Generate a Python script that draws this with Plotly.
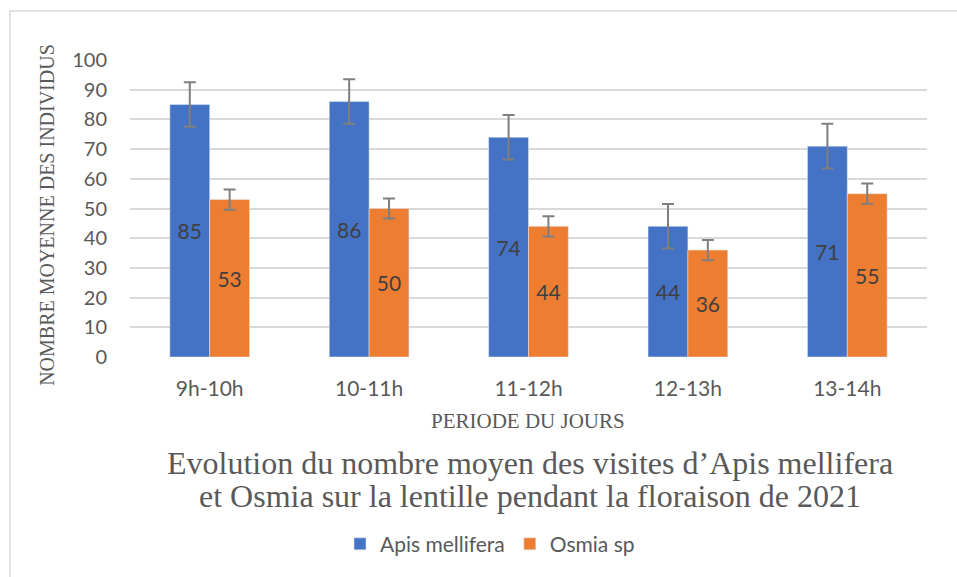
import plotly.graph_objects as go

categories = ["9h-10h", "10-11h", "11-12h", "12-13h", "13-14h"]
apis = [85, 86, 74, 44, 71]
osmia = [53, 50, 44, 36, 55]
apis_err = [7.5, 7.5, 7.5, 7.5, 7.5]
osmia_err = [3.4, 3.4, 3.4, 3.4, 3.4]
y_ticks = [0, 10, 20, 30, 40, 50, 60, 70, 80, 90, 100]

W, H = 957, 577
L, R, T, B = 130, 30, 60, 214
pw, ph = W - L - R, H - T - B

def px(x):
    return (x - L) / pw

def py(y):
    return (H - B - y) / ph

err_style = dict(type="data", thickness=2, width=6, color="#7f7f7f")
lab_font = dict(family="Lato, Carlito, sans-serif", size=21, color="#404040")

fig = go.Figure()
fig.add_trace(go.Bar(
    name="Apis mellifera", x=categories, y=apis, marker_color="#4472c4",
    text=apis, textposition="inside", insidetextanchor="middle",
    textfont=lab_font, textangle=0,
    error_y=dict(array=apis_err, **err_style),
))
fig.add_trace(go.Bar(
    name="Osmia sp", x=categories, y=osmia, marker_color="#ed7d31",
    text=osmia, textposition="inside", insidetextanchor="middle",
    textfont=lab_font, textangle=0,
    error_y=dict(array=osmia_err, **err_style),
))

serif = "Liberation Serif, Times New Roman, serif"

fig.update_layout(
    width=W, height=H,
    margin=dict(l=L, r=R, t=T, b=B),
    paper_bgcolor="white", plot_bgcolor="white",
    barmode="group", bargap=0.5, bargroupgap=0,
    uniformtext=dict(mode=False),
    xaxis=dict(tickfont=dict(family="Lato, Carlito, sans-serif", size=21, color="#595959"),
               showgrid=False, zeroline=False,
               showline=False, ticks="", ticklabelstandoff=17),
    yaxis=dict(range=[0, 100], tickvals=y_ticks,
               tickfont=dict(family="Lato, Carlito, sans-serif", size=20, color="#595959"),
               showgrid=True, gridcolor="#d9d9d9", gridwidth=1.5,
               zeroline=False, showline=False, ticks="",
               ticklabelstandoff=22),
    showlegend=True,
    legend=dict(orientation="h", x=px(490), xanchor="center",
                y=py(554), yanchor="middle",
                font=dict(family="Lato, Carlito, sans-serif", size=21, color="#595959"),
                itemwidth=30, traceorder="normal"),
    font=dict(family="Lato, sans-serif", color="#595959"),
)

annotations = [
    dict(text="NOMBRE MOYENNE DES INDIVIDUS", x=px(47), y=py(218),
         textangle=-90, font=dict(family=serif, size=20, color="#595959")),
    dict(text="PERIODE DU JOURS", x=px(528), y=py(428),
         font=dict(family=serif, size=21, color="#595959")),
    dict(text="Evolution du nombre moyen des visites d\u2019Apis mellifera",
         x=px(530), y=py(471),
         font=dict(family=serif, size=32, color="#595959")),
    dict(text="et Osmia sur la lentille pendant la floraison de 2021",
         x=px(530), y=py(505),
         font=dict(family=serif, size=32, color="#595959")),
]
for a in annotations:
    a.update(xref="paper", yref="paper", showarrow=False,
             xanchor="center", yanchor="middle")
fig.update_layout(annotations=annotations)

fig.add_shape(type="rect", xref="paper", yref="paper",
              x0=px(10), x1=px(970), y0=py(590), y1=py(10),
              line=dict(color="#d9d9d9", width=1.5), fillcolor="rgba(0,0,0,0)",
              layer="below")

fig.write_html("out.html", config={"displayModeBar": False},
               post_script="document.body.style.margin='0';document.body.style.overflow='hidden';")
